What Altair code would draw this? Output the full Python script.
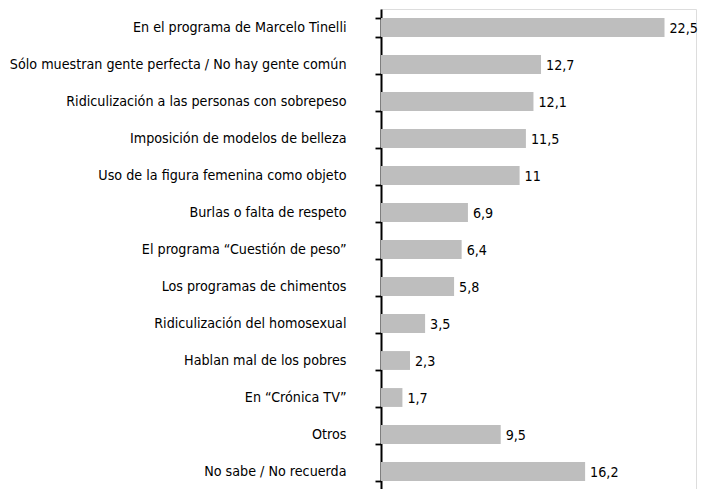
import altair as alt
import pandas as pd

categories = [
    "En el programa de Marcelo Tinelli",
    "Sólo muestran gente perfecta / No hay gente común",
    "Ridiculización a las personas con sobrepeso",
    "Imposición de modelos de belleza",
    "Uso de la figura femenina como objeto",
    "Burlas o falta de respeto",
    "El programa “Cuestión de peso”",
    "Los programas de chimentos",
    "Ridiculización del homosexual",
    "Hablan mal de los pobres",
    "En “Crónica TV”",
    "Otros",
    "No sabe / No recuerda",
]
values = [22.5, 12.7, 12.1, 11.5, 11, 6.9, 6.4, 5.8, 3.5, 2.3, 1.7, 9.5, 16.2]
labels = ["22,5", "12,7", "12,1", "11,5", "11", "6,9", "6,4", "5,8", "3,5", "2,3", "1,7", "9,5", "16,2"]

df = pd.DataFrame({"cat": categories, "val": values, "lab": labels})

FONT = "DejaVu Sans Condensed, sans-serif"

y = alt.Y(
    "cat:N",
    sort=categories,
    title=None,
    scale=alt.Scale(paddingInner=0.49, paddingOuter=0.245),
    axis=alt.Axis(
        tickBand="extent",
        tickSize=6,
        tickColor="black",
        tickWidth=1.8,
        domainColor="black",
        domainWidth=2,
        labelPadding=29,
        labelFont=FONT,
        labelFontSize=14.2,
        labelColor="black",
        labelLimit=400,
    ),
)
x = alt.X(
    "val:Q",
    scale=alt.Scale(domain=[0, 25]),
    axis=None,
)

bars = alt.Chart(df).mark_bar(color="#bebebe").encode(x=x, y=y)
text = alt.Chart(df).mark_text(
    align="left", baseline="middle", dx=5, dy=1, font=FONT, fontSize=14.2, color="black"
).encode(x=x, y=y, text="lab:N")

chart = (
    (bars + text)
    .properties(
        width=315,
        height=481,
        autosize=alt.AutoSizeParams(type="none"),
        padding={"left": 373, "top": 1, "right": 3, "bottom": 0},
    )
    .configure_view(stroke=None)
    .configure(background="white")
)

chart.save("out.html", embed_options={"renderer": "svg", "actions": False})
